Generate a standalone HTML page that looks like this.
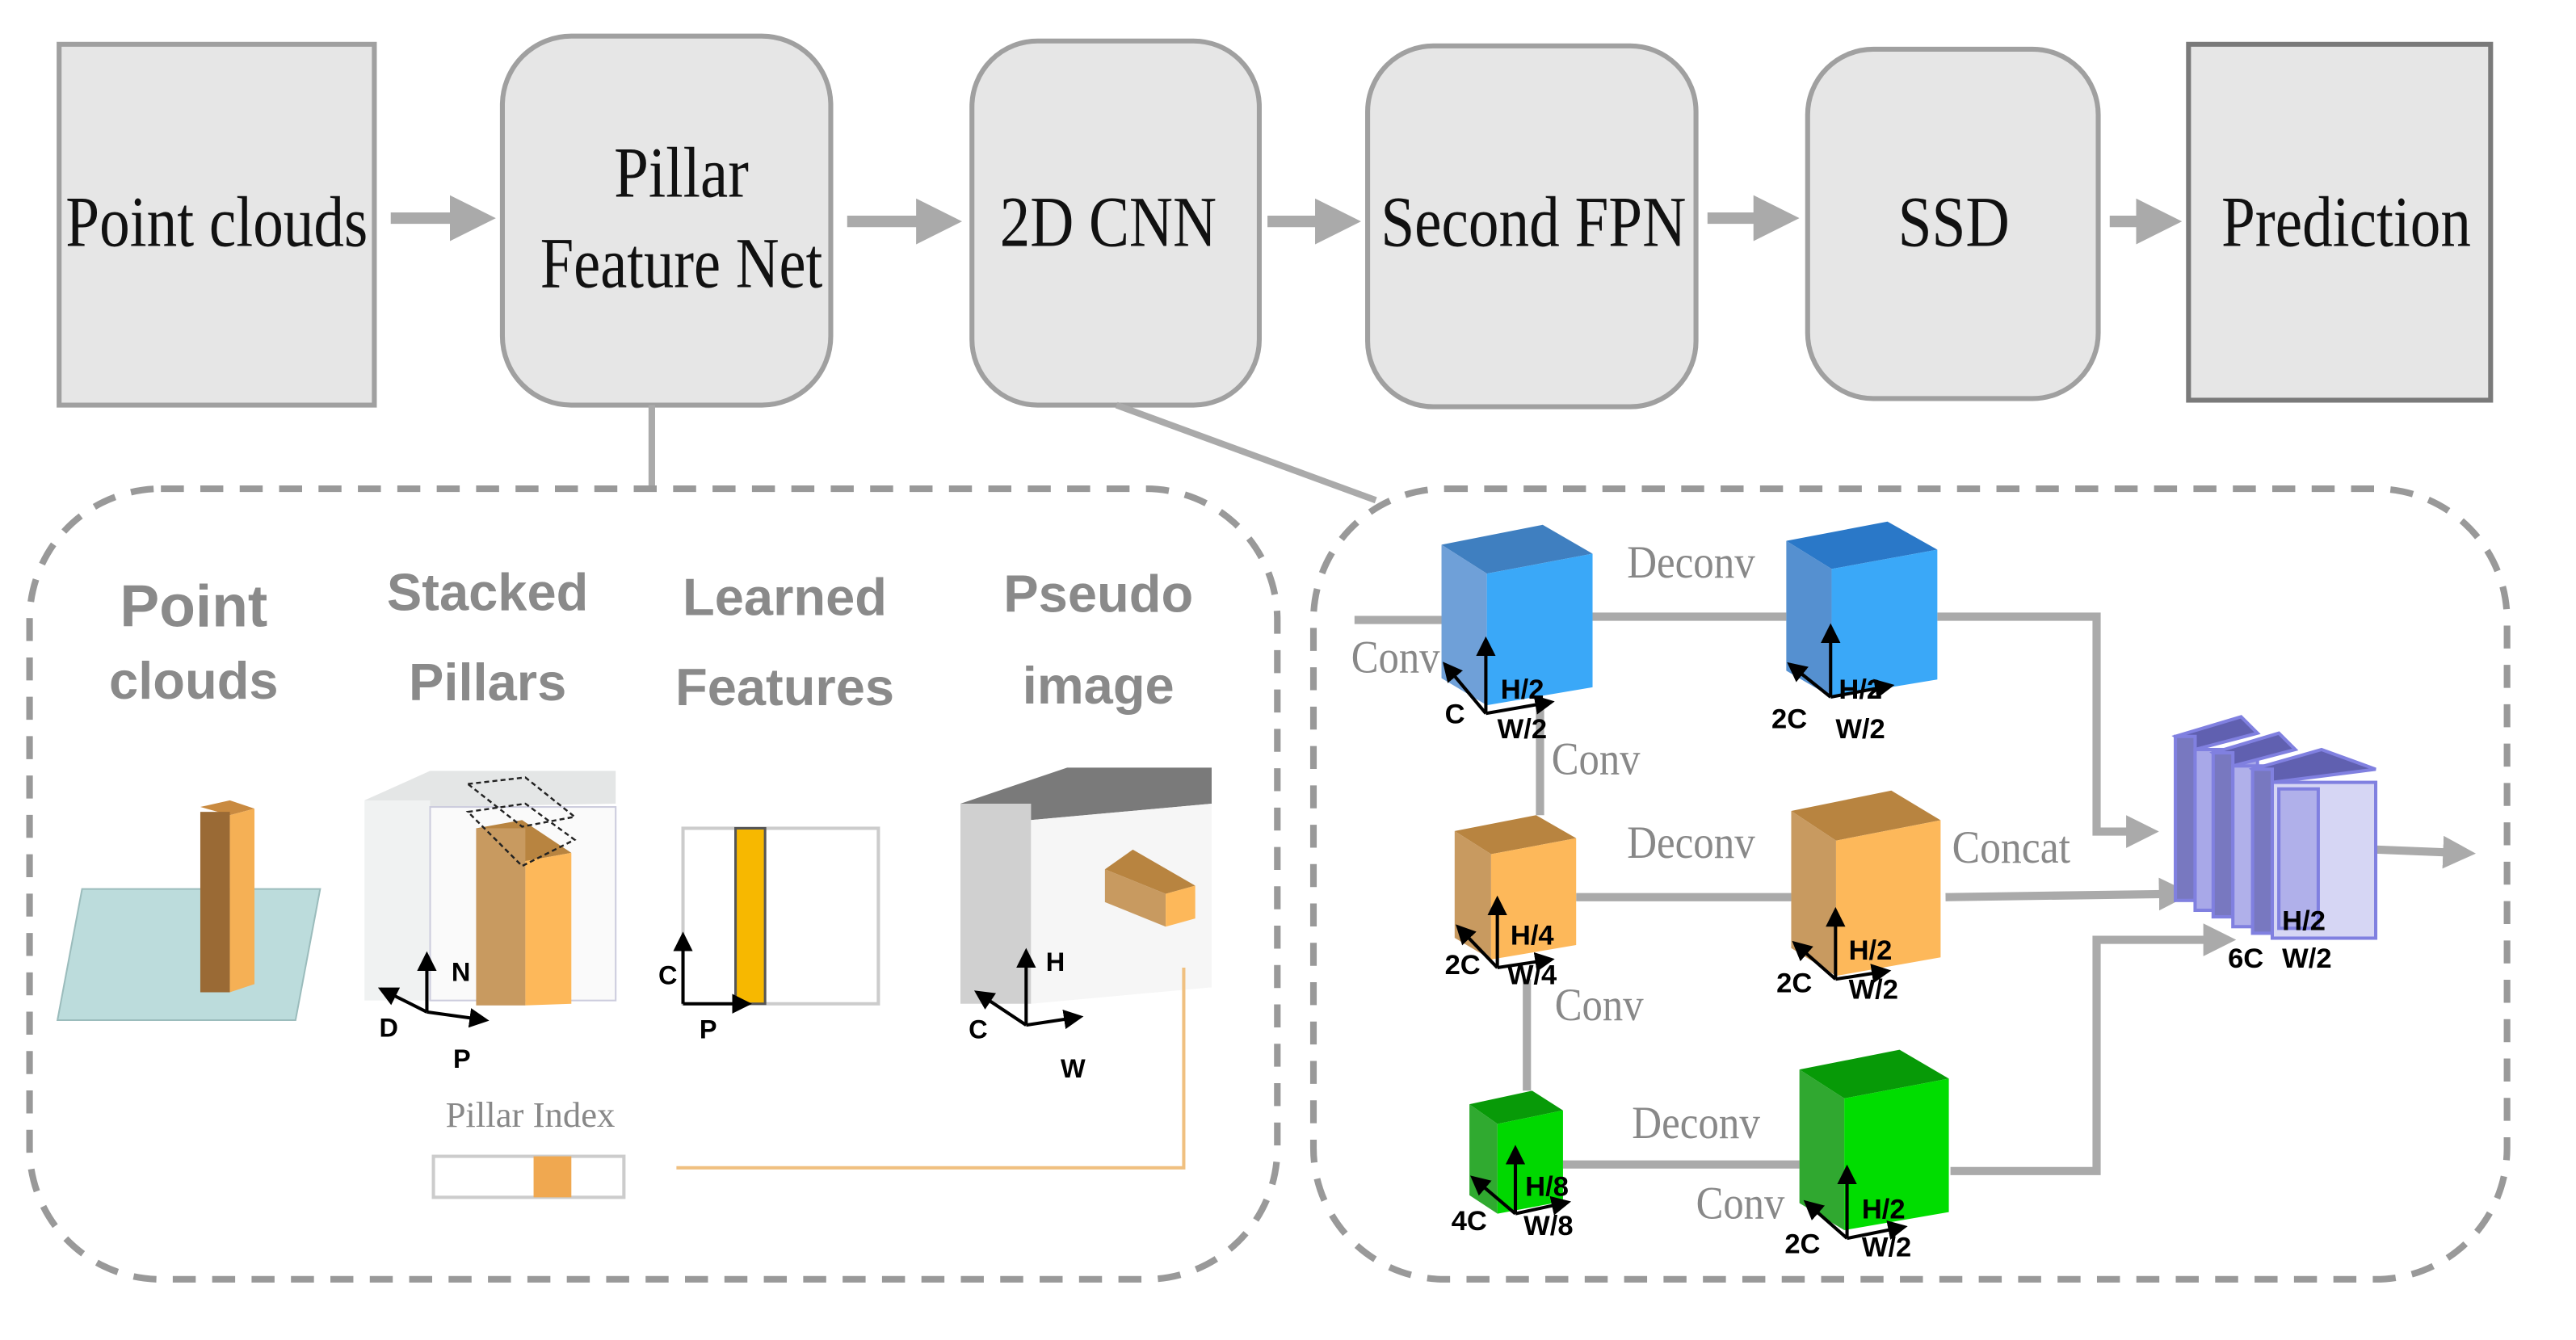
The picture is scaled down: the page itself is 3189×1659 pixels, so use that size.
<!DOCTYPE html>
<html><head><meta charset="utf-8"><style>
html,body{margin:0;padding:0;background:#fff;}
svg{display:block;}
.ser{font-family:"Liberation Serif",serif;}
.san{font-family:"Liberation Sans",sans-serif;}
</style></head><body>
<svg width="3189" height="1659" viewBox="0 0 1569 817" preserveAspectRatio="none" xmlns="http://www.w3.org/2000/svg">
<defs>
<marker id="ga" markerWidth="4" markerHeight="4" refX="2" refY="2" orient="auto" markerUnits="strokeWidth"><path d="M0,0 L4,2 L0,4 z" fill="#aaa"/></marker>
<marker id="ba" markerWidth="6" markerHeight="6" refX="5" refY="3" orient="auto" markerUnits="strokeWidth"><path d="M0,0 L6,3 L0,6 z" fill="#000"/></marker>
</defs>
<g stroke="#a0a0a0" stroke-width="3" fill="#e6e6e6">
<rect x="36" y="27" width="192" height="220"/>
<rect x="306" y="22" width="200" height="225" rx="42"/>
<rect x="592" y="25" width="175" height="222" rx="40"/>
<rect x="833" y="28" width="200" height="220" rx="40"/>
<rect x="1101" y="30" width="177" height="213" rx="40"/>
<rect x="1333" y="27" width="184" height="217" stroke="#7a7a7a"/>
</g>
<g class="ser" font-size="44" fill="#111" text-anchor="middle">
<text x="132" y="150" textLength="184" lengthAdjust="spacingAndGlyphs">Point clouds</text>
<text x="415" y="120" textLength="82" lengthAdjust="spacingAndGlyphs">Pillar</text>
<text x="415" y="175" textLength="172" lengthAdjust="spacingAndGlyphs">Feature Net</text>
<text x="675" y="150" textLength="132" lengthAdjust="spacingAndGlyphs">2D CNN</text>
<text x="934" y="150" textLength="186" lengthAdjust="spacingAndGlyphs">Second FPN</text>
<text x="1190" y="150" textLength="68" lengthAdjust="spacingAndGlyphs">SSD</text>
<text x="1429" y="150" textLength="152" lengthAdjust="spacingAndGlyphs">Prediction</text>
</g>
<g stroke="#aaa" stroke-width="7" fill="none" marker-end="url(#ga)">
<line x1="238" y1="133" x2="288" y2="133"/>
<line x1="516" y1="135" x2="572" y2="135"/>
<line x1="772" y1="135" x2="815" y2="135"/>
<line x1="1040" y1="133" x2="1082" y2="133"/>
<line x1="1285" y1="135" x2="1315" y2="135"/>
</g>
<g stroke="#aaa" stroke-width="4" fill="none">
<line x1="397" y1="247" x2="397" y2="298"/>
<line x1="680" y1="247" x2="838" y2="305"/>
</g>
<g stroke="#999" stroke-width="4" fill="none" stroke-dasharray="14,10">
<rect x="18" y="298" width="760" height="482" rx="80"/>
<rect x="800" y="298" width="727" height="482" rx="80"/>
</g>
<g class="san" font-weight="bold" font-size="32" fill="#8a8a8a" text-anchor="middle">
<text x="118" y="382" font-size="36">Point</text>
<text x="118" y="426">clouds</text>
<text x="297" y="372">Stacked</text>
<text x="297" y="427">Pillars</text>
<text x="478" y="375">Learned</text>
<text x="478" y="430">Features</text>
<text x="669" y="373">Pseudo</text>
<text x="669" y="429">image</text>
</g>
<polygon points="50,542 195,542 180,622 35,622" fill="#bcdcdc" stroke="#9bbcbc"/>
<polygon points="122,492 140,488 155,493 140,497" fill="#c98a40"/>
<rect x="122" y="495" width="18" height="110" fill="#9a6a35"/>
<polygon points="140,497 155,493 155,600 140,605" fill="#f5b055"/>
<polygon points="222,488 262,470 375,470 375,490 262,492" fill="#e4e6e6"/>
<rect x="222" y="488" width="40" height="122" fill="#f0f2f2"/>
<rect x="262" y="492" width="113" height="118" fill="#fafafa" stroke="#ccd" stroke-width="1"/>
<polygon points="290,505 318,500 348,520 320,525" fill="#b88440"/>
<rect x="290" y="505" width="30" height="108" fill="#c89a60"/>
<polygon points="320,525 348,520 348,612 320,613" fill="#fdb85a"/>
<g stroke="#222" stroke-width="1.2" stroke-dasharray="3,2" fill="none">
<polygon points="285,478 320,474 350,498 318,504"/>
<polygon points="285,495 320,490 350,512 318,528"/>
</g>
<rect x="416" y="505" width="119" height="107" fill="#fff" stroke="#ccc" stroke-width="2"/>
<rect x="448" y="505" width="18" height="107" fill="#f7b800" stroke="#555" stroke-width="1.5"/>
<polygon points="585,490 650,468 738,468 738,490 628,500" fill="#7a7a7a"/>
<rect x="585" y="490" width="43" height="122" fill="#d0d0d0"/>
<polygon points="628,500 738,490 738,602 628,612" fill="#f6f6f6"/>
<polygon points="673,530 690,518 728,540 710,545" fill="#b88440"/>
<polygon points="673,530 710,545 710,565 673,550" fill="#c89a60"/>
<polygon points="710,545 728,540 728,560 710,565" fill="#fdb85a"/>
<g stroke="#000" stroke-width="2" fill="none" marker-end="url(#ba)">
<line x1="260" y1="617" x2="260" y2="582"/><line x1="260" y1="617" x2="232" y2="603"/><line x1="260" y1="617" x2="296" y2="622"/>
<line x1="416" y1="612" x2="416" y2="570"/><line x1="416" y1="612" x2="456" y2="612"/>
<line x1="625" y1="625" x2="625" y2="580"/><line x1="625" y1="625" x2="595" y2="605"/><line x1="625" y1="625" x2="658" y2="620"/>
</g>
<g class="san" font-weight="bold" font-size="16" fill="#000">
<text x="275" y="598">N</text><text x="231" y="632">D</text><text x="276" y="651">P</text>
<text x="401" y="600">C</text><text x="426" y="633">P</text>
<text x="637" y="592">H</text><text x="590" y="633">C</text><text x="646" y="657">W</text>
</g>
<text x="323" y="687" class="ser" font-size="22" fill="#888" text-anchor="middle">Pillar Index</text>
<rect x="264" y="705" width="116" height="25" fill="#fff" stroke="#ccc" stroke-width="2"/>
<rect x="325" y="705" width="23" height="25" fill="#f0a850"/>
<polyline points="412,712 721,712 721,590" fill="none" stroke="#f0c080" stroke-width="2"/>
<g stroke="#aaa" stroke-width="5" fill="none">
<line x1="825" y1="378" x2="880" y2="378"/>
<line x1="970" y1="376" x2="1088" y2="376"/>
<polyline points="1180,376 1277,376 1277,507 1305,507" marker-end="url(#ga)"/>
<line x1="938" y1="430" x2="938" y2="497"/>
<line x1="960" y1="547" x2="1091" y2="547"/>
<line x1="1185" y1="547" x2="1325" y2="545" marker-end="url(#ga)"/>
<line x1="930" y1="597" x2="930" y2="665"/>
<line x1="952" y1="710" x2="1096" y2="710"/>
<polyline points="1188,714 1277,714 1277,573 1352,573" marker-end="url(#ga)"/>
<line x1="1447" y1="518" x2="1498" y2="520" marker-end="url(#ga)"/>
</g>
<g transform="translate(878,320) scale(0.92,1.1)"><polygon points="0,11 67,0 100,16 30,27" fill="#3f7fc0"/><polygon points="0,11 30,27 30,100 0,85" fill="#6fa0d8"/><polygon points="30,27 100,16 100,90 30,100" fill="#3aa8f8"/></g>
<g transform="translate(1088,318) scale(0.92,1.07)"><polygon points="0,11 67,0 100,16 30,27" fill="#2a78c8"/><polygon points="0,11 30,27 30,100 0,85" fill="#5590d0"/><polygon points="30,27 100,16 100,90 30,100" fill="#3aa8f8"/></g>
<g transform="translate(886,497) scale(0.74,0.88)"><polygon points="0,11 67,0 100,16 30,27" fill="#b88440"/><polygon points="0,11 30,27 30,100 0,85" fill="#c89a60"/><polygon points="30,27 100,16 100,90 30,100" fill="#fdb85a"/></g>
<g transform="translate(1091,482) scale(0.91,1.13)"><polygon points="0,11 67,0 100,16 30,27" fill="#b88440"/><polygon points="0,11 30,27 30,100 0,85" fill="#c89a60"/><polygon points="30,27 100,16 100,90 30,100" fill="#fdb85a"/></g>
<g transform="translate(895,665) scale(0.57,0.75)"><polygon points="0,11 67,0 100,16 30,27" fill="#089a08"/><polygon points="0,11 30,27 30,100 0,85" fill="#30aa30"/><polygon points="30,27 100,16 100,90 30,100" fill="#00d800"/></g>
<g transform="translate(1096,640) scale(0.91,1.1)"><polygon points="0,11 67,0 100,16 30,27" fill="#079a07"/><polygon points="0,11 30,27 30,100 0,85" fill="#30a830"/><polygon points="30,27 100,16 100,90 30,100" fill="#00dd00"/></g>
<g stroke="#8080e0" stroke-width="2">
<g transform="translate(1325,437)"><polygon points="0,12 40,0 50,10 12,20" fill="#6060b0"/><rect x="0" y="12" width="12" height="100" fill="#7878c0"/><rect x="12" y="20" width="38" height="98" fill="#a8a8e8"/></g>
<g transform="translate(1348,447)"><polygon points="0,12 40,0 50,10 12,20" fill="#6060b0"/><rect x="0" y="12" width="12" height="100" fill="#7878c0"/><rect x="12" y="20" width="38" height="98" fill="#b0b0ea"/></g>
<g transform="translate(1372,457)"><polygon points="0,12 42,0 75,12 12,20" fill="#6060b0"/><rect x="0" y="12" width="12" height="100" fill="#7878c0"/><rect x="12" y="20" width="63" height="95" fill="#d6d6f4"/><rect x="16" y="24" width="24" height="85" fill="#b0b0ea"/></g>
</g>
<g stroke="#000" stroke-width="2" fill="none" marker-end="url(#ba)">
<line x1="905" y1="435" x2="905" y2="390"/><line x1="905" y1="435" x2="880" y2="405"/><line x1="905" y1="435" x2="945" y2="428"/>
<line x1="1115" y1="425" x2="1115" y2="382"/><line x1="1115" y1="425" x2="1090" y2="405"/><line x1="1115" y1="425" x2="1152" y2="418"/>
<line x1="912" y1="590" x2="912" y2="548"/><line x1="912" y1="590" x2="888" y2="565"/><line x1="912" y1="590" x2="945" y2="585"/>
<line x1="1118" y1="597" x2="1118" y2="555"/><line x1="1118" y1="597" x2="1093" y2="575"/><line x1="1118" y1="597" x2="1150" y2="592"/>
<line x1="923" y1="740" x2="923" y2="700"/><line x1="923" y1="740" x2="897" y2="718"/><line x1="923" y1="740" x2="955" y2="733"/>
<line x1="1125" y1="755" x2="1125" y2="712"/><line x1="1125" y1="755" x2="1100" y2="733"/><line x1="1125" y1="755" x2="1160" y2="748"/>
</g>
<g class="san" font-weight="bold" font-size="17" fill="#000">
<text x="914" y="426">H/2</text><text x="880" y="441">C</text><text x="912" y="450">W/2</text>
<text x="1120" y="426">H/2</text><text x="1079" y="444">2C</text><text x="1118" y="450">W/2</text>
<text x="920" y="576">H/4</text><text x="880" y="594">2C</text><text x="918" y="600">W/4</text>
<text x="1126" y="585">H/2</text><text x="1082" y="605">2C</text><text x="1126" y="609">W/2</text>
<text x="929" y="729">H/8</text><text x="884" y="750">4C</text><text x="928" y="753">W/8</text>
<text x="1134" y="743">H/2</text><text x="1087" y="764">2C</text><text x="1134" y="766">W/2</text>
<text x="1390" y="567">H/2</text><text x="1357" y="590">6C</text><text x="1390" y="590">W/2</text>
</g>
<g class="ser" font-size="28" fill="#888" text-anchor="middle">
<text x="1030" y="352" textLength="78" lengthAdjust="spacingAndGlyphs">Deconv</text>
<text x="1030" y="523" textLength="78" lengthAdjust="spacingAndGlyphs">Deconv</text>
<text x="1033" y="694" textLength="78" lengthAdjust="spacingAndGlyphs">Deconv</text>
<text x="850" y="410" textLength="54" lengthAdjust="spacingAndGlyphs">Conv</text>
<text x="972" y="472" textLength="54" lengthAdjust="spacingAndGlyphs">Conv</text>
<text x="974" y="622" textLength="54" lengthAdjust="spacingAndGlyphs">Conv</text>
<text x="1060" y="743" textLength="54" lengthAdjust="spacingAndGlyphs">Conv</text>
<text x="1225" y="526" textLength="72" lengthAdjust="spacingAndGlyphs">Concat</text>
</g>
</svg>
</body></html>
